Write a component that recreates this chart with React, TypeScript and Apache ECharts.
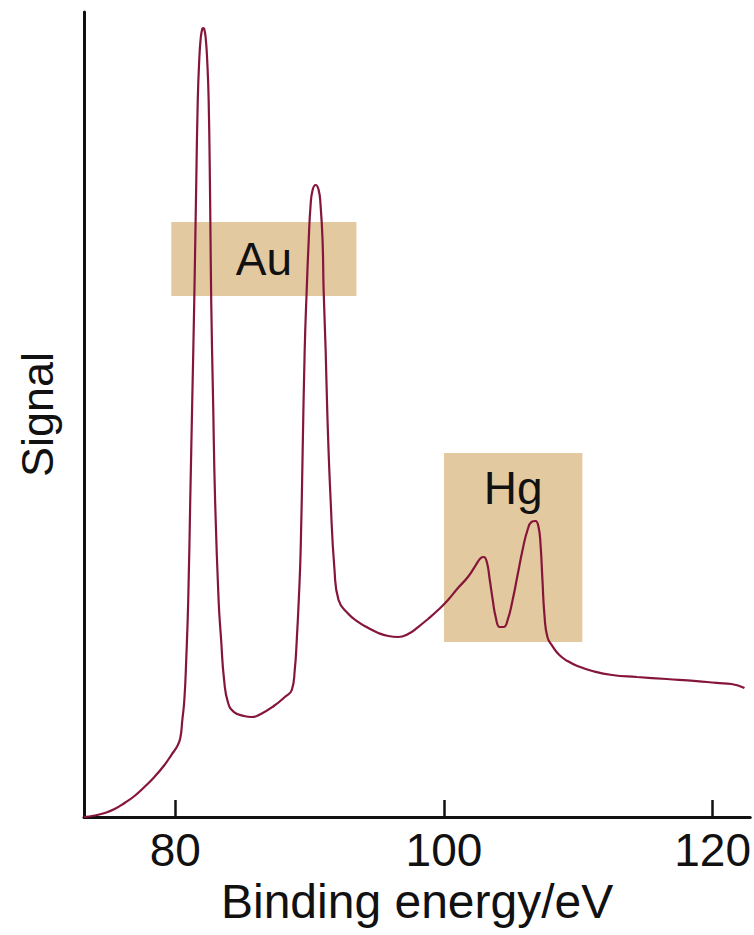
import React, { useEffect, useRef } from "react";
import * as echarts from "echarts";

const energy = [
  73.19, 74.0, 74.74, 75.48, 76.22, 76.96, 77.7, 78.44, 79.19, 79.7, 80.15, 80.37, 80.52, 80.67, 80.81, 80.96,
  81.11, 81.26, 81.41, 81.56, 81.67, 81.78, 81.89, 82.0, 82.07, 82.15, 82.26, 82.37, 82.48, 82.59, 82.67, 82.81,
  82.96, 83.22, 83.41, 83.63, 83.93, 84.37, 85.11, 85.7, 86.37, 87.33, 88.15, 88.67, 88.89, 89.04, 89.19, 89.33,
  89.48, 89.63, 89.78, 89.93, 90.07, 90.22, 90.44, 90.67, 90.81, 90.96, 91.04, 91.19, 91.33, 91.56, 91.85, 92.15,
  92.89, 93.63, 94.37, 95.11, 95.85, 96.59, 97.33, 98.07, 98.81, 99.56, 100.3, 101.04, 101.78, 102.37, 102.74,
  102.96, 103.19, 103.41, 103.63, 103.85, 104.15, 104.44, 104.74, 105.11, 105.48, 105.85, 106.22, 106.52, 106.81,
  107.04, 107.19, 107.33, 107.48, 107.7, 108.07, 108.59, 109.19, 109.93, 111.04, 112.52, 114.37, 116.59, 118.81,
  120.3, 121.41, 122.37,
];

const signal = [
  0.0, 0.19, 0.5, 0.99, 1.74, 2.61, 3.73, 4.97, 6.46, 7.7, 8.82, 9.81, 12.05, 14.53, 19.5, 26.96,
  39.38, 51.8, 64.22, 79.13, 89.07, 94.04, 96.77, 97.89, 98.01, 97.89, 96.77, 94.04, 89.07, 76.65, 64.22, 51.8,
  39.38, 26.96, 21.99, 17.02, 14.16, 13.04, 12.55, 12.42, 12.8, 13.79, 14.91, 15.78, 18.26, 21.99, 26.96, 33.17,
  45.59, 58.01, 65.47, 71.68, 76.02, 77.89, 78.51, 77.89, 76.02, 71.68, 65.47, 58.01, 49.32, 39.38, 30.68, 26.96,
  25.22, 24.22, 23.48, 22.86, 22.48, 22.36, 22.73, 23.6, 24.6, 25.71, 26.96, 28.45, 29.81, 31.3, 32.17,
  32.3, 31.68, 29.44, 26.96, 24.84, 23.6, 23.6, 24.47, 26.96, 30.06, 33.17, 35.65, 36.65, 36.77,
  36.02, 33.79, 29.44, 25.09, 22.36, 21.24, 20.12, 19.38, 18.76, 18.14, 17.64, 17.39, 17.14, 16.89,
  16.65, 16.52, 16.02,
];

const tickValues = [80, 100, 120];

// Highlighted regions
const regionLabels = ["Au", "Hg"];
const regionX = [
  [79.7, 93.48],
  [100.0, 110.3],
];
const regionY = [
  [64.72, 73.91],
  [21.74, 45.22],
];

export default function App() {
  const ref = useRef<HTMLDivElement>(null);

  useEffect(() => {
    if (!ref.current) return;
    const chart = echarts.init(ref.current, null, { renderer: "svg" });
    const font = "'Liberation Sans', Arial, Helvetica, sans-serif";
    const points = energy.map((e, i) => [e, signal[i]]);
    const areas = regionLabels.map((lab, i) => [
      {
        name: lab,
        xAxis: regionX[i][0],
        yAxis: regionY[i][1],
        label: {
          show: true,
          position: i === 0 ? "inside" : "insideTop",
          distance: 12,
          color: "#111",
          fontSize: 46,
          fontFamily: font,
        },
      },
      { xAxis: regionX[i][1], yAxis: regionY[i][0] },
    ]);

    chart.setOption({
      animation: false,
      backgroundColor: "#ffffff",
      grid: { left: 84, right: 0, top: 12, bottom: 118, containLabel: false },
      xAxis: {
        type: "value",
        min: 73.2,
        max: 122.8,
        name: "Binding energy/eV",
        nameLocation: "middle",
        nameGap: 58,
        nameTextStyle: { fontSize: 48, color: "#111", fontFamily: font },
        axisLine: { show: true, onZero: false, lineStyle: { color: "#111", width: 3 } },
        axisTick: { show: true, inside: true, length: 17, customValues: tickValues, lineStyle: { color: "#111", width: 2.5 } },
        axisLabel: { show: true, customValues: tickValues, fontSize: 46, color: "#111", fontFamily: font, margin: 10 },
        splitLine: { show: false },
      },
      yAxis: {
        type: "value",
        min: 0,
        max: 100,
        name: "Signal",
        nameLocation: "middle",
        nameGap: 24,
        nameRotate: 90,
        nameTextStyle: { fontSize: 45, color: "#111", fontFamily: font },
        axisLine: { show: true, lineStyle: { color: "#111", width: 3 } },
        axisTick: { show: false },
        axisLabel: { show: false },
        splitLine: { show: false },
      },
      series: [
        {
          type: "line",
          data: points,
          showSymbol: false,
          smooth: 0.5,
          lineStyle: { color: "#85163A", width: 2.2 },
          z: 3,
          markArea: {
            silent: true,
            itemStyle: { color: "#E3C9A0", opacity: 1 },
            data: areas,
          },
        },
      ],
    });
    return () => chart.dispose();
  }, []);

  return (
    <div
      ref={ref}
      style={{ position: "absolute", left: 0, top: 0, width: 754, height: 935 }}
    />
  );
}
